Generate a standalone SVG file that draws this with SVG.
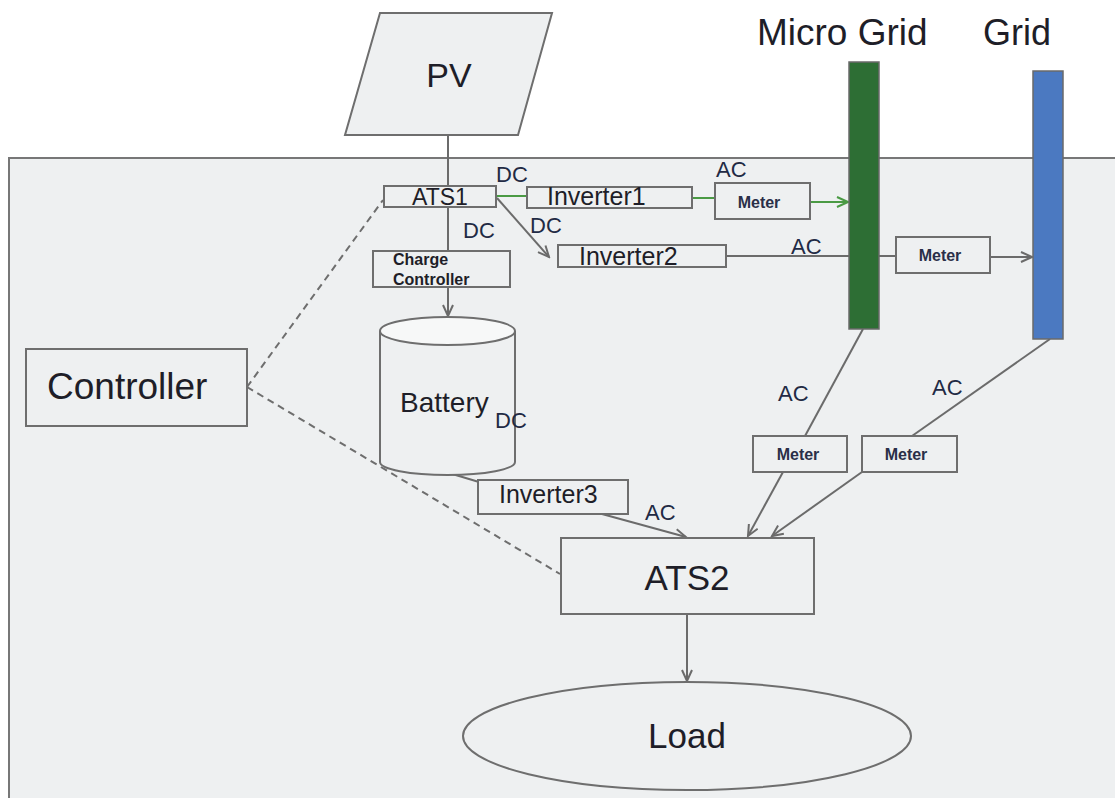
<svg xmlns="http://www.w3.org/2000/svg" width="1115" height="798" viewBox="0 0 1115 798">
<defs>
<style>
.box{fill:#eef0f1;stroke:#6e6e6e;stroke-width:2}
.ln{stroke:#6b6b6b;stroke-width:2;fill:none}
.gl{stroke:#4a9a44;stroke-width:2;fill:none}
.dash{stroke:#6e6e6e;stroke-width:2;fill:none;stroke-dasharray:7,5}
.t{font-family:"Liberation Sans",Arial,sans-serif;fill:#1e1e28}
.lb{font-family:"Liberation Sans",Arial,sans-serif;fill:#222a44;font-size:22px}
.m{font-family:"Liberation Sans",Arial,sans-serif;fill:#2a2f48;font-size:16px;font-weight:bold;text-anchor:middle}
</style>
<marker id="ah" markerWidth="14" markerHeight="12" refX="12" refY="6" orient="auto" markerUnits="userSpaceOnUse">
<path d="M1,1 L12,6 L1,11" fill="none" stroke="#6b6b6b" stroke-width="2"/>
</marker>
<marker id="ahg" markerWidth="14" markerHeight="12" refX="12" refY="6" orient="auto" markerUnits="userSpaceOnUse">
<path d="M1,1 L12,6 L1,11" fill="none" stroke="#4a9a44" stroke-width="2"/>
</marker>
</defs>
<rect x="0" y="0" width="1115" height="798" fill="#ffffff"/>
<rect id="container" x="9" y="158" width="1120" height="660" fill="#eef0f1" stroke="#777" stroke-width="2"/>

<g id="connectors">
<line class="ln" x1="448" y1="135" x2="448" y2="186"/>
<line class="ln" x1="448" y1="207" x2="448" y2="251"/>
<line class="ln" x1="448" y1="287" x2="448" y2="316" marker-end="url(#ah)"/>
<line class="gl" x1="496" y1="196" x2="527" y2="196"/>
<line class="gl" x1="692" y1="198" x2="715" y2="198"/>
<line class="gl" x1="810" y1="202" x2="848" y2="202" marker-end="url(#ahg)"/>
<line class="ln" x1="497" y1="198" x2="549" y2="257" marker-end="url(#ah)"/>
<line class="ln" x1="726" y1="256" x2="896" y2="256"/>
<line class="ln" x1="990" y1="257" x2="1032" y2="257" marker-end="url(#ah)"/>
<line class="ln" x1="449" y1="473" x2="479" y2="482"/>
<line class="ln" x1="602" y1="514" x2="686" y2="537" marker-end="url(#ah)"/>
<line class="ln" x1="863" y1="329" x2="805" y2="436"/>
<line class="ln" x1="1050" y1="339" x2="912" y2="436"/>
<line class="ln" x1="783" y1="472" x2="748" y2="536" marker-end="url(#ah)"/>
<line class="ln" x1="862" y1="472" x2="772" y2="536" marker-end="url(#ah)"/>
<line class="ln" x1="687" y1="614" x2="687" y2="681" marker-end="url(#ah)"/>
<line class="dash" x1="247" y1="387" x2="383" y2="200"/>
<line class="dash" x1="247" y1="387" x2="560" y2="574"/>
</g>

<g id="microgrid">
<rect x="849" y="62" width="30" height="267" fill="#2d6e34" stroke="#6a6a6a" stroke-width="1.5"/>
<text class="t" x="757" y="45" font-size="37">Micro Grid</text>
</g>
<g id="grid">
<rect x="1033" y="71" width="30" height="268" fill="#4b79c1" stroke="#6a6a6a" stroke-width="1.5"/>
<text class="t" x="983" y="45" font-size="36">Grid</text>
</g>

<g id="pv">
<polygon class="box" points="380,13 552,13 518,135 345,135"/>
<text class="t" x="449" y="87" font-size="34" text-anchor="middle">PV</text>
</g>
<g id="ats1">
<rect class="box" x="384" y="186" width="112" height="21"/>
<text class="t" x="440" y="205" font-size="23" text-anchor="middle">ATS1</text>
</g>
<g id="inverter1">
<rect class="box" x="527" y="187" width="165" height="21"/>
<text class="t" x="547" y="205" font-size="25">Inverter1</text>
</g>
<g id="meter1">
<rect class="box" x="715" y="183" width="95" height="36"/>
<text class="m" x="759" y="208">Meter</text>
</g>
<g id="inverter2">
<rect class="box" x="558" y="245" width="168" height="22"/>
<text class="t" x="579" y="265" font-size="25">Inverter2</text>
</g>
<g id="meter2">
<rect class="box" x="896" y="237" width="94" height="36"/>
<text class="m" x="940" y="261">Meter</text>
</g>
<g id="chargecontroller">
<rect class="box" x="373" y="251" width="137" height="36"/>
<text class="t" x="393" y="265" font-size="16" font-weight="bold" fill="#2a2f48">Charge</text>
<text class="t" x="393" y="285" font-size="16" font-weight="bold" fill="#2a2f48">Controller</text>
</g>
<g id="battery">
<path d="M380,331 L380,462 A67.5,13 0 0 0 515,462 L515,331" fill="#eef0f1" stroke="#6e6e6e" stroke-width="2"/>
<ellipse cx="447.5" cy="331" rx="67.5" ry="14" fill="#f7f8f8" stroke="#6e6e6e" stroke-width="2"/>
<text class="t" x="400" y="412" font-size="28">Battery</text>
</g>
<g id="inverter3">
<rect class="box" x="478" y="480" width="150" height="34"/>
<text class="t" x="499" y="503" font-size="25">Inverter3</text>
</g>
<g id="meter3">
<rect class="box" x="753" y="436" width="94" height="36"/>
<text class="m" x="798" y="460">Meter</text>
</g>
<g id="meter4">
<rect class="box" x="862" y="436" width="95" height="36"/>
<text class="m" x="906" y="460">Meter</text>
</g>
<g id="controller">
<rect class="box" x="26" y="349" width="221" height="77"/>
<text class="t" x="47" y="399" font-size="37">Controller</text>
</g>
<g id="ats2">
<rect class="box" x="561" y="538" width="253" height="76"/>
<text class="t" x="687" y="590" font-size="35" text-anchor="middle">ATS2</text>
</g>
<g id="load">
<ellipse class="box" cx="687" cy="736" rx="224" ry="54"/>
<text class="t" x="687" y="748" font-size="35" text-anchor="middle">Load</text>
</g>

<g id="labels">
<text class="lb" x="496" y="182">DC</text>
<text class="lb" x="463" y="238">DC</text>
<text class="lb" x="530" y="233">DC</text>
<text class="lb" x="495" y="428">DC</text>
<text class="lb" x="716" y="177">AC</text>
<text class="lb" x="791" y="254">AC</text>
<text class="lb" x="778" y="401">AC</text>
<text class="lb" x="932" y="395">AC</text>
<text class="lb" x="645" y="520">AC</text>
</g>
</svg>
